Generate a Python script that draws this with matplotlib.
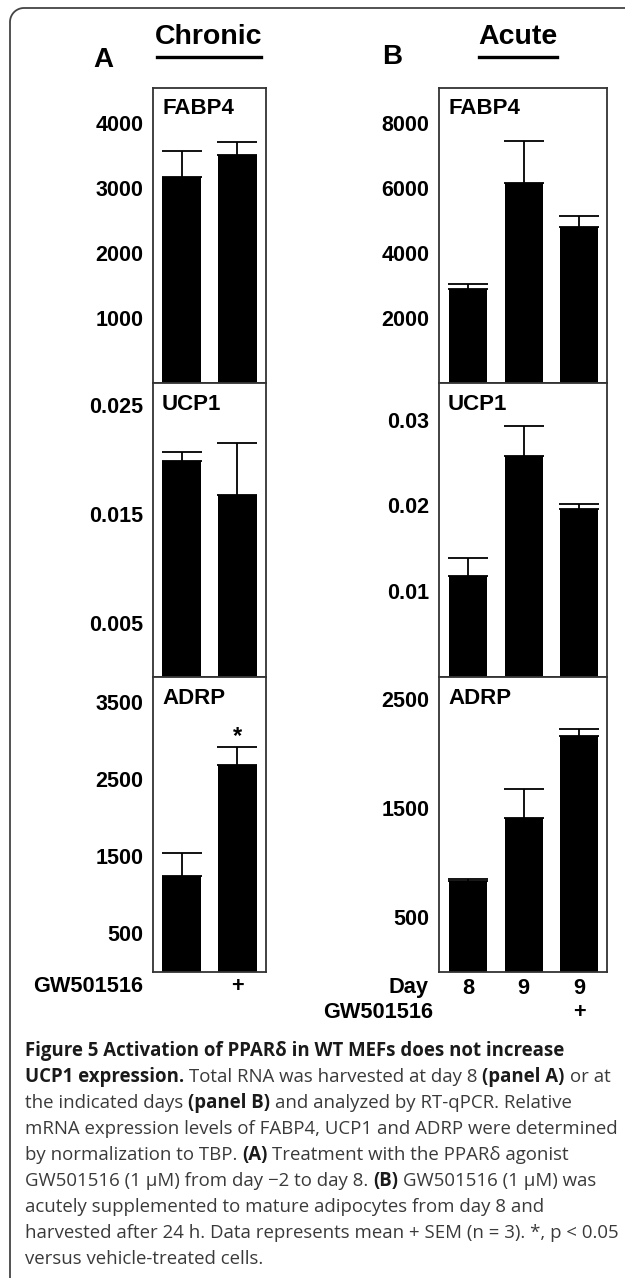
import numpy as np
import matplotlib
matplotlib.use('Agg')
import matplotlib.pyplot as plt
from matplotlib.lines import Line2D

# values (mean and + SEM)
chronic_treatment = ['', '+']
chronic_fabp4 = [3170, 3510]
chronic_fabp4_sem = [400, 200]
chronic_ucp1 = [0.0198, 0.0167]
chronic_ucp1_sem = [0.0009, 0.0048]
chronic_adrp = [1250, 2690]
chronic_adrp_sem = [290, 233]

acute_days = ['8', '9', '9']
acute_treatment = ['', '', '+']
acute_fabp4 = [2890, 6150, 4800]
acute_fabp4_sem = [155, 1290, 340]
acute_ucp1 = [0.0118, 0.0258, 0.0196]
acute_ucp1_sem = [0.0021, 0.0035, 0.0006]
acute_adrp = [838, 1410, 2168]
acute_adrp_sem = [15, 270, 60]

genes = ['FABP4', 'UCP1', 'ADRP']
chronic_ticks = [[1000, 2000, 3000, 4000], [0.005, 0.015, 0.025], [500, 1500, 2500, 3500]]
chronic_ticklabels = [['1000', '2000', '3000', '4000'], ['0.005', '0.015', '0.025'],
                      ['500', '1500', '2500', '3500']]
chronic_ylim = [4540, 0.027, 3826]
acute_ticks = [[2000, 4000, 6000, 8000], [0.01, 0.02, 0.03], [500, 1500, 2500]]
acute_ticklabels = [['2000', '4000', '6000', '8000'], ['0.01', '0.02', '0.03'],
                    ['500', '1500', '2500']]
acute_ylim = [9077, 0.03427, 2706]

W, H = 625, 1278
FONT = 'Liberation Sans'
CAP_FONT = 'Open Sans'

fig = plt.figure(figsize=(W / 100, H / 100), dpi=100)


def px_box(left, top, right, bottom):
    return [left / W, 1 - bottom / H, (right - left) / W, (bottom - top) / H]


def draw_panel(box, values, sem, ticks, ticklabels, ylim, gene, width, xlim):
    ax = fig.add_axes(box)
    x = np.arange(len(values))
    ax.bar(x, values, width=width, color='black', zorder=2)
    ax.errorbar(x, values, yerr=[np.zeros(len(values)), sem], fmt='none', ecolor='black',
                elinewidth=1.3, capsize=14.4, capthick=1.3, zorder=1)
    ax.set_xlim(*xlim)
    ax.set_ylim(0, ylim)
    ax.set_yticks(ticks)
    ax.set_yticklabels(ticklabels, fontfamily=FONT, fontweight='bold', fontsize=15.5)
    ax.set_xticks([])
    ax.tick_params(axis='y', length=0, pad=7)
    for s in ax.spines.values():
        s.set_linewidth(1.3)
        s.set_color('#333333')
    ax.annotate(gene, xy=(0, 1), xycoords='axes fraction', xytext=(9, -21),
                textcoords='offset pixels', ha='left', va='center',
                fontfamily=FONT, fontweight='bold', fontsize=16)
    return ax


rows = [(88, 383), (383, 677), (677, 972)]
chronic_data = [(chronic_fabp4, chronic_fabp4_sem), (chronic_ucp1, chronic_ucp1_sem),
                (chronic_adrp, chronic_adrp_sem)]
acute_data = [(acute_fabp4, acute_fabp4_sem), (acute_ucp1, acute_ucp1_sem),
              (acute_adrp, acute_adrp_sem)]

axes_a = []
axes_b = []
for i, (top, bottom) in enumerate(rows):
    axes_a.append(draw_panel(px_box(153, top, 266, bottom), chronic_data[i][0], chronic_data[i][1],
                             chronic_ticks[i], chronic_ticklabels[i], chronic_ylim[i], genes[i],
                             0.70, (-0.51, 1.51)))
    axes_b.append(draw_panel(px_box(439, top, 607, bottom), acute_data[i][0], acute_data[i][1],
                             acute_ticks[i], acute_ticklabels[i], acute_ylim[i], genes[i],
                             0.685, (-0.52, 2.50)))

# significance mark
ax = axes_a[2]
ax.annotate('*', xy=(1, chronic_adrp[1] + chronic_adrp_sem[1]), xytext=(0, 10),
            textcoords='offset pixels', ha='center', va='center',
            fontfamily=FONT, fontweight='bold', fontsize=17)

# labels under the bars
lab = dict(fontfamily=FONT, fontweight='bold', fontsize=15.7, va='center')
ax = axes_a[2]
ax.annotate('GW501516', xy=(0, 0), xycoords='axes fraction', xytext=(-10, -15),
            textcoords='offset pixels', ha='right', **lab)
for i, t in enumerate(chronic_treatment):
    ax.annotate(t, xy=(i, 0), xycoords=('data', 'axes fraction'), xytext=(0, -15),
                textcoords='offset pixels', ha='center', **lab)

ax = axes_b[2]
ax.annotate('Day', xy=(0, 0), xycoords='axes fraction', xytext=(-11, -16),
            textcoords='offset pixels', ha='right', **lab)
ax.annotate('GW501516', xy=(0, 0), xycoords='axes fraction', xytext=(-6, -41),
            textcoords='offset pixels', ha='right', **lab)
for i, (d, t) in enumerate(zip(acute_days, acute_treatment)):
    ax.annotate(d, xy=(i, 0), xycoords=('data', 'axes fraction'), xytext=(0, -16),
                textcoords='offset pixels', ha='center', **lab)
    ax.annotate(t, xy=(i, 0), xycoords=('data', 'axes fraction'), xytext=(0, -41),
                textcoords='offset pixels', ha='center', **lab)

# panel letters and headings
fig.text(103 / W, 1 - 60 / H, 'A', ha='center', va='center', fontfamily=FONT,
         fontweight='bold', fontsize=20)
fig.text(392 / W, 1 - 57 / H, 'B', ha='center', va='center', fontfamily=FONT,
         fontweight='bold', fontsize=20)
fig.text(209 / W, 1 - 37 / H, 'Chronic', ha='center', va='center', fontfamily=FONT,
         fontweight='bold', fontsize=20.5)
fig.text(518 / W, 1 - 37 / H, 'Acute', ha='center', va='center', fontfamily=FONT,
         fontweight='bold', fontsize=20.5)
fig.add_artist(Line2D([157 / W, 261 / W], [1 - 57 / H, 1 - 57 / H], color='black', lw=2.4))
fig.add_artist(Line2D([479 / W, 557 / W], [1 - 57 / H, 1 - 57 / H], color='black', lw=2.4))

# outer frame: left and top edges with rounded corner
r = 14
ang = np.linspace(np.pi, np.pi / 2, 20)
fx = [10] + list(10 + r + r * np.cos(ang)) + [W + 5]
fy = [H + 5] + list(8 + r - r * np.sin(ang)) + [8]
fig.add_artist(Line2D([v / W for v in fx], [1 - v / H for v in fy], color='#444444', lw=1.3))

# caption with mixed bold / regular runs
caption = [
    [('b', 'Figure 5 Activation of PPARδ in WT MEFs does not increase')],
    [('b', 'UCP1 expression.'), ('r', ' Total RNA was harvested at day 8 '), ('b', '(panel A)'),
     ('r', ' or at')],
    [('r', 'the indicated days '), ('b', '(panel B)'), ('r', ' and analyzed by RT-qPCR. Relative')],
    [('r', 'mRNA expression levels of FABP4, UCP1 and ADRP were determined')],
    [('r', 'by normalization to TBP. '), ('b', '(A)'), ('r', ' Treatment with the PPARδ agonist')],
    [('r', 'GW501516 (1 μM) from day −2 to day 8. '), ('b', '(B)'), ('r', ' GW501516 (1 μM) was')],
    [('r', 'acutely supplemented to mature adipocytes from day 8 and')],
    [('r', 'harvested after 24 h. Data represents mean + SEM (n = 3). *, p < 0.05')],
    [('r', 'versus vehicle-treated cells.')],
]
renderer = fig.canvas.get_renderer()
cap_style = dict(fontfamily=CAP_FONT, fontstretch='normal')


def text_width(s, weight, size):
    t = fig.text(0, 0, s, fontweight=weight, fontsize=size, **cap_style)
    w = t.get_window_extent(renderer).width
    t.remove()
    return w


# size the caption so the widest regular line spans the text block
cap_size = 12 * 588 / text_width(caption[3][0][1], 'normal', 12)

space = {}
for wgt in ['bold', 'normal']:
    space[wgt] = text_width('x x', wgt, cap_size) - text_width('xx', wgt, cap_size)

y = 1051
for line in caption:
    x = 25
    for kind, s in line:
        wgt = 'bold' if kind == 'b' else 'normal'
        col = '#1a1a1a' if kind == 'b' else '#3a3a3a'
        lead = len(s) - len(s.lstrip(' '))
        trail = len(s) - len(s.rstrip(' '))
        core = s.strip(' ')
        x += lead * space[wgt]
        fig.text(x / W, 1 - y / H, core, ha='left', va='center', fontweight=wgt,
                 fontsize=cap_size, color=col, **cap_style)
        x += text_width(core, wgt, cap_size) + trail * space[wgt]
    y += 26

fig.savefig('out.png', dpi=100)
